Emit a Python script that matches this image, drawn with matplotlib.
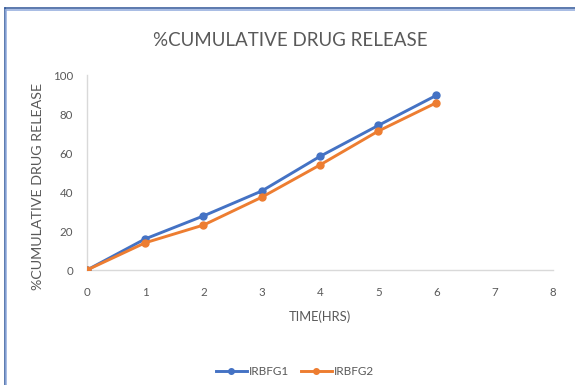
import matplotlib.pyplot as plt
from matplotlib.lines import Line2D

plt.rcParams['font.family'] = ['Lato', 'DejaVu Sans']

# release data (hours vs % released)
time_hrs = [0, 1, 2, 3, 4, 5, 6]
irbfg1 = [0, 16, 27.8, 40.6, 58.4, 74.3, 89.8]
irbfg2 = [0, 14, 23.1, 37.4, 54, 71.4, 86]

blue = "#4472C4"
orange = "#ED7D31"
grey = "#595959"

fig = plt.figure(figsize=(5.75, 3.85), dpi=100)
ax = fig.add_axes([0.1513, 0.2987, 0.8104, 0.5053])

ax.plot(time_hrs, irbfg1, color=blue, lw=2.1, marker="o", ms=5, label="IRBFG1")
ax.plot(time_hrs, irbfg2, color=orange, lw=2.1, marker="o", ms=5, label="IRBFG2")

ax.set_xlim(0, 8)
ax.set_ylim(0, 100)
ax.set_xticks(range(0, 9))
ax.set_yticks(range(0, 101, 20))
ax.tick_params(length=0, labelsize=8.3, labelcolor=grey)
ax.tick_params(axis="x", pad=12)
ax.tick_params(axis="y", pad=10)
for side in ("top", "right"):
    ax.spines[side].set_visible(False)
for side in ("left", "bottom"):
    ax.spines[side].set_color("#D9D9D9")
    ax.spines[side].set_linewidth(1)
ax.spines["left"].set_zorder(0)
ax.spines["bottom"].set_zorder(0)

fig.text(0.505, 0.895, "%CUMULATIVE DRUG RELEASE", ha="center", va="center",
         fontsize=13.5, color=grey)
fig.text(0.066, 0.517, "%CUMULATIVE DRUG RELEASE", rotation=90, ha="center",
         va="center", fontsize=10.3, color=grey)
fig.text(0.557, 0.177, "TIME(HRS)", ha="center", va="center", fontsize=9.3,
         color=grey)

leg = fig.legend(loc="center", bbox_to_anchor=(0.513, 0.034), ncol=2, frameon=False,
                 fontsize=8.5, handlelength=2.6, columnspacing=1.0, handletextpad=0.2,
                 markerscale=0.8)
for t in leg.get_texts():
    t.set_color(grey)

# chart frame (double line, only left and top visible)
W, H = 575, 385
for off, col in ((0, "#2F5597"), (1.5, "#8FAADC")):
    x0 = (4.5 + off) / W
    y0 = 1 - (8.0 + off) / H
    fig.add_artist(Line2D([x0, x0], [0, y0], color=col, lw=1.1))
    fig.add_artist(Line2D([x0, 1], [y0, y0], color=col, lw=1.1))

fig.savefig("out.png", dpi=100)
